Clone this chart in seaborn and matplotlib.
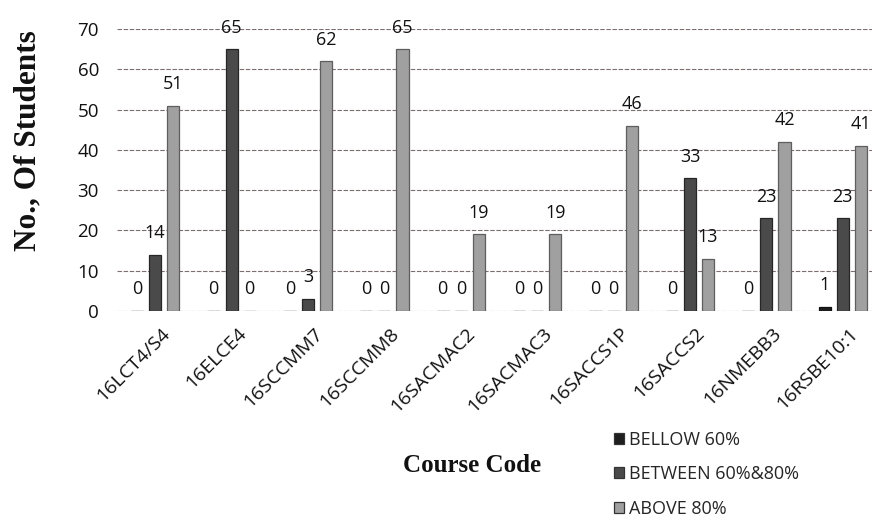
import matplotlib
matplotlib.use("Agg")
import matplotlib.pyplot as plt
import matplotlib.transforms as mtransforms
import seaborn as sns
import pandas as pd

courses = ["16LCT4/S4", "16ELCE4", "16SCCMM7", "16SCCMM8", "16SACMAC2",
           "16SACMAC3", "16SACCS1P", "16SACCS2", "16NMEBB3", "16RSBE10:1"]
bellow_60 = [0, 0, 0, 0, 0, 0, 0, 0, 0, 1]
between_60_80 = [14, 65, 3, 0, 0, 0, 0, 33, 23, 23]
above_80 = [51, 0, 62, 65, 19, 19, 46, 13, 42, 41]
series_names = ["BELLOW 60%", "BETWEEN 60%&80%", "ABOVE 80%"]
y_ticks = [0, 10, 20, 30, 40, 50, 60, 70]

rows = []
for name, vals in zip(series_names, [bellow_60, between_60_80, above_80]):
    for c, v in zip(courses, vals):
        rows.append({"Course": c, "Group": name, "Count": v})
df = pd.DataFrame(rows)

sns.set_theme(style="white")
plt.rcParams["font.family"] = ["Open Sans", "DejaVu Sans"]

fig = plt.figure(figsize=(8.72, 5.25), dpi=100)
ax = fig.add_axes([117 / 872, 1 - 311 / 525, 764 / 872, (311 - 29) / 525])

palette = {"BELLOW 60%": "#1e1e1e", "BETWEEN 60%&80%": "#4a4a4a", "ABOVE 80%": "#a0a0a0"}
sns.barplot(data=df, x="Course", y="Count", hue="Group", hue_order=series_names,
            order=courses, palette=palette, width=0.71, gap=0.33, ax=ax,
            saturation=1, edgecolor="#333333", linewidth=0.9)

edge = {"BELLOW 60%": "#111111", "BETWEEN 60%&80%": "#262626", "ABOVE 80%": "#5e5e5e"}
for cont, name in zip(ax.containers, series_names):
    for p in cont:
        p.set_edgecolor(edge[name])
    ax.bar_label(cont, labels=[str(int(round(p.get_height()))) for p in cont],
                 padding=9, fontsize=13, color="#111111")

ax.set_ylim(0, 70)
ax.set_xlim(-0.5, 9.5)
ax.set_yticks(y_ticks)
ax.set_yticklabels([str(t) for t in y_ticks], fontsize=13.5, color="#111111")
ax.tick_params(axis="y", length=0, pad=13)
ax.tick_params(axis="x", length=0, pad=2)
for s in ax.spines.values():
    s.set_visible(False)
ax.yaxis.grid(True, color="#7d6e6e", linestyle=(0, (4, 1.5)), linewidth=0.8)
ax.set_axisbelow(True)

ax.set_xticks(range(len(courses)))
ax.set_xticklabels(courses, rotation=45, ha="right", va="center", rotation_mode="anchor",
                   fontsize=14, color="#111111")
offset = mtransforms.ScaledTranslation(12 / 100, -17 / 100, fig.dpi_scale_trans)
for lbl in ax.get_xticklabels():
    lbl.set_transform(lbl.get_transform() + offset)

ax.set_xlabel("")
ax.set_ylabel("")
fig.text(28 / 872, 1 - 141 / 525, "No., Of Students", fontsize=22.5, fontweight="bold",
         family="Liberation Serif", rotation=90, ha="center", va="center", color="#111111")
fig.text(472 / 872, 1 - 465 / 525, "Course Code", fontsize=18, fontweight="bold",
         family="Liberation Serif", ha="center", va="center", color="#111111")

handles, labels = ax.get_legend_handles_labels()
ax.legend_.remove()
fig.legend(handles, labels, loc="upper left", bbox_to_anchor=(614 / 872, 1 - 431 / 525),
           frameon=False, fontsize=13, handlelength=0.55, handleheight=0.55,
           handletextpad=0.3, labelspacing=0.9, borderpad=0, borderaxespad=0)

fig.savefig("out.png", dpi=100)
